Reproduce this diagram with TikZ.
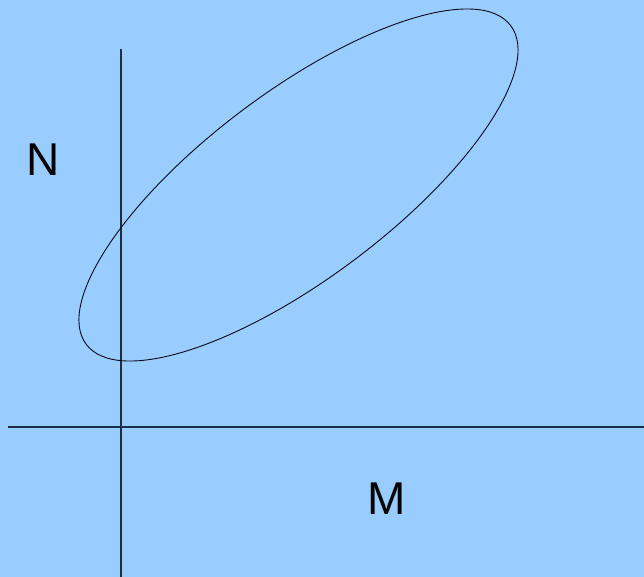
\documentclass[tikz,border=0pt]{standalone}
\usepackage{fontspec}
\setmainfont{Liberation Sans}
\definecolor{bgblue}{HTML}{99CCFF}
\definecolor{axisline}{HTML}{1A2E4A}
\definecolor{ellline}{HTML}{0A0A1A}
\begin{document}
\begin{tikzpicture}[x=1pt,y=-1pt,
  axis/.style={draw=axisline,line width=1.1pt},
  curve/.style={draw=ellline,line width=0.9pt},
  lbl/.style={inner sep=0pt,font=\fontsize{46}{46}\selectfont}]
\fill[bgblue] (0,0) rectangle (644,577);
\useasboundingbox (0,0) rectangle (644,577);
\coordinate (xl) at (8,427);
\coordinate (xr) at (644,427);
\coordinate (yt) at (121,49);
\coordinate (yb) at (121,577);
\draw[axis] (xl) -- (xr);
\draw[axis] (yt) -- (yb);
\coordinate (c) at (298.5,185);
\draw[curve,rotate around={36.9:(c)}] (c) ellipse [x radius=265.4pt, y radius=93.4pt];
\node[lbl] (N) at (43.5,159.5) {N};
\node[lbl] (M) at (386.5,499) {M};
\end{tikzpicture}
\end{document}
